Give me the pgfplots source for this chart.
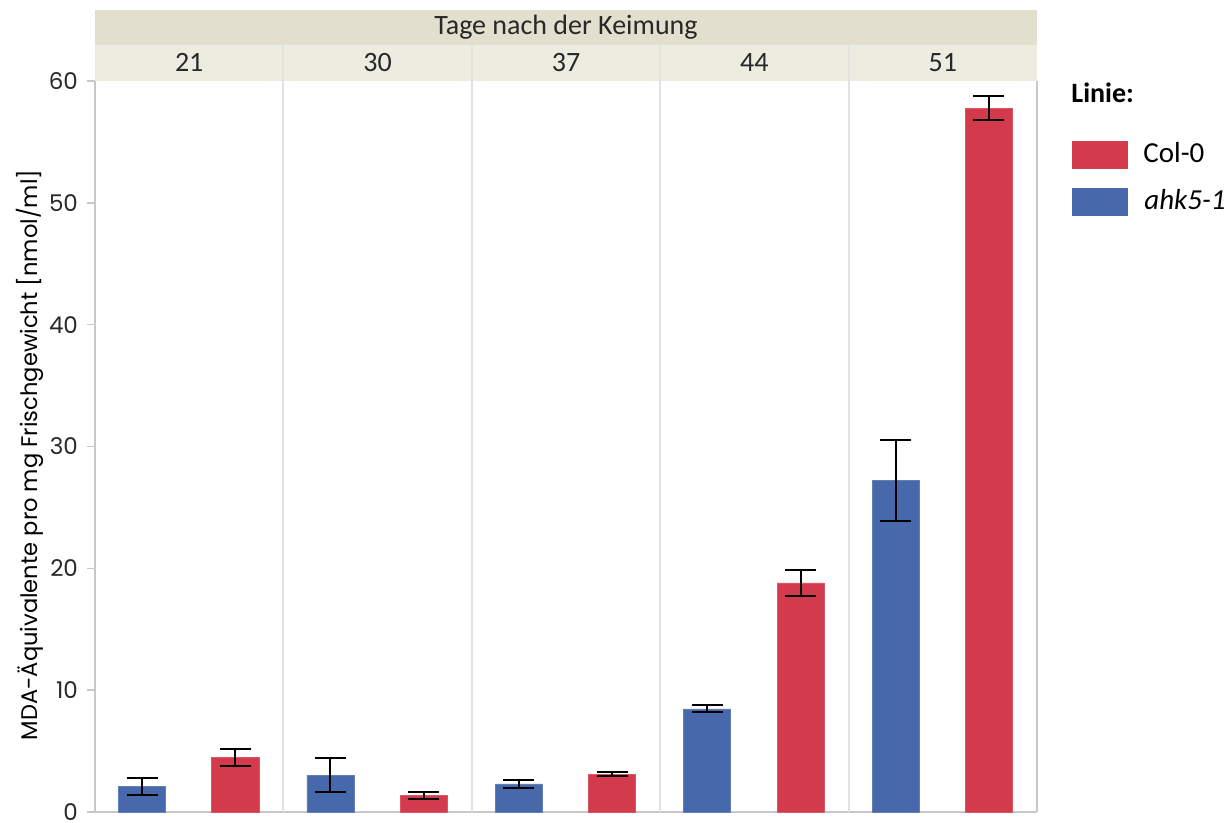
\documentclass[border=0pt]{standalone}
\usepackage{pgfplots}
\pgfplotsset{compat=1.18}
\usepackage{pgfplotstable}
\usepackage{fontspec}
\setmainfont{Carlito}
\newfontfamily\gothic{Poppins}

\definecolor{colred}{RGB}{211,58,75}
\definecolor{ahkblue}{RGB}{72,104,172}
\definecolor{headtop}{RGB}{226,223,206}
\definecolor{headsub}{RGB}{236,237,224}
\definecolor{sepgray}{RGB}{226,226,226}
\definecolor{axgray}{RGB}{200,200,200}
\definecolor{txt}{RGB}{40,40,40}

% MDA equivalents per mg fresh weight: mean and error
\pgfplotstableread{
x      y      e
0.25   2.08   0.69
1.25   3.02   1.41
2.25   2.30   0.33
3.25   8.46   0.29
4.25   27.2   3.33
}\ahkdata
\pgfplotstableread{
x      y      e
0.745  4.49   0.68
1.745  1.37   0.30
2.745  3.09   0.17
3.745  18.8   1.07
4.745  57.75  0.99
}\coldata

\begin{document}
\begin{tikzpicture}
\useasboundingbox (0,0) rectangle (616pt,-411.5pt);
\begin{axis}[
  at={(47.5pt,-406pt)}, anchor=south west,
  scale only axis, width=471pt, height=365.5pt,
  xmin=0, xmax=5, ymin=0, ymax=60,
  clip=false,
  axis lines*=left,
  axis line style={axgray, line width=1pt},
  xtick=\empty,
  ytick={0,10,...,60},
  tick align=outside,
  major tick length=4pt,
  tick style={axgray, line width=0.8pt},
  yticklabel style={font=\gothic\fontsize{11.5}{12}\selectfont, text=txt, xshift=-1pt},
  /pgf/number format/assume math mode=true,
  error bars/y dir=both,
  error bars/y explicit,
  error bars/error mark=|,
  error bars/error mark options={black, line width=1pt, mark size=7.75pt},
  error bars/error bar style={black, line width=1pt},
]
% header bands
\fill[headtop] (axis cs:0,62.96) rectangle (axis cs:5,65.83);
\fill[headsub] (axis cs:0,60) rectangle (axis cs:5,62.96);
\node[font=\fontsize{14}{15}\selectfont, text=txt] at (axis cs:2.5,64.45) {Tage nach der Keimung};
\node[font=\fontsize{14}{15}\selectfont, text=txt] at (axis cs:0.5,61.5) {21};
\node[font=\fontsize{14}{15}\selectfont, text=txt] at (axis cs:1.5,61.5) {30};
\node[font=\fontsize{14}{15}\selectfont, text=txt] at (axis cs:2.5,61.5) {37};
\node[font=\fontsize{14}{15}\selectfont, text=txt] at (axis cs:3.5,61.5) {44};
\node[font=\fontsize{14}{15}\selectfont, text=txt] at (axis cs:4.5,61.5) {51};
% panel separators
\draw[sepgray, line width=1pt] (axis cs:1,0) -- (axis cs:1,62.96);
\draw[sepgray, line width=1pt] (axis cs:2,0) -- (axis cs:2,62.96);
\draw[sepgray, line width=1pt] (axis cs:3,0) -- (axis cs:3,62.96);
\draw[sepgray, line width=1pt] (axis cs:4,0) -- (axis cs:4,62.96);
\draw[axgray, line width=1pt] (axis cs:5,0) -- (axis cs:5,60);

\addplot[ybar, bar width=0.25, bar shift=0, fill=ahkblue, draw=ahkblue!85!white]
  table[x=x, y=y, y error=e] {\ahkdata};
\addplot[ybar, bar width=0.25, bar shift=0, fill=colred, draw=colred!85!white]
  table[x=x, y=y, y error=e] {\coldata};
\end{axis}

% y axis title and legend
\begin{scope}[x=0.5pt, y=-0.5pt]
\node[rotate=90, font=\gothic\fontsize{11.3}{12}\selectfont, text=black] at (30,455)
  {MDA-Äquivalente pro mg Frischgewicht [nmol/ml]};
\node[anchor=west, font=\bfseries\fontsize{14}{15}\selectfont, inner sep=0pt] at (1071,93) {Linie:};
\fill[colred] (1072,141) rectangle (1128,169);
\fill[ahkblue] (1072,188) rectangle (1128,216);
\node[anchor=west, font=\fontsize{14.5}{15}\selectfont, inner sep=0pt] at (1143,153) {Col-0};
\node[anchor=west, font=\itshape\fontsize{14.5}{15}\selectfont, inner sep=0pt] at (1144,200) {ahk5-1};
\end{scope}
\end{tikzpicture}
\end{document}
